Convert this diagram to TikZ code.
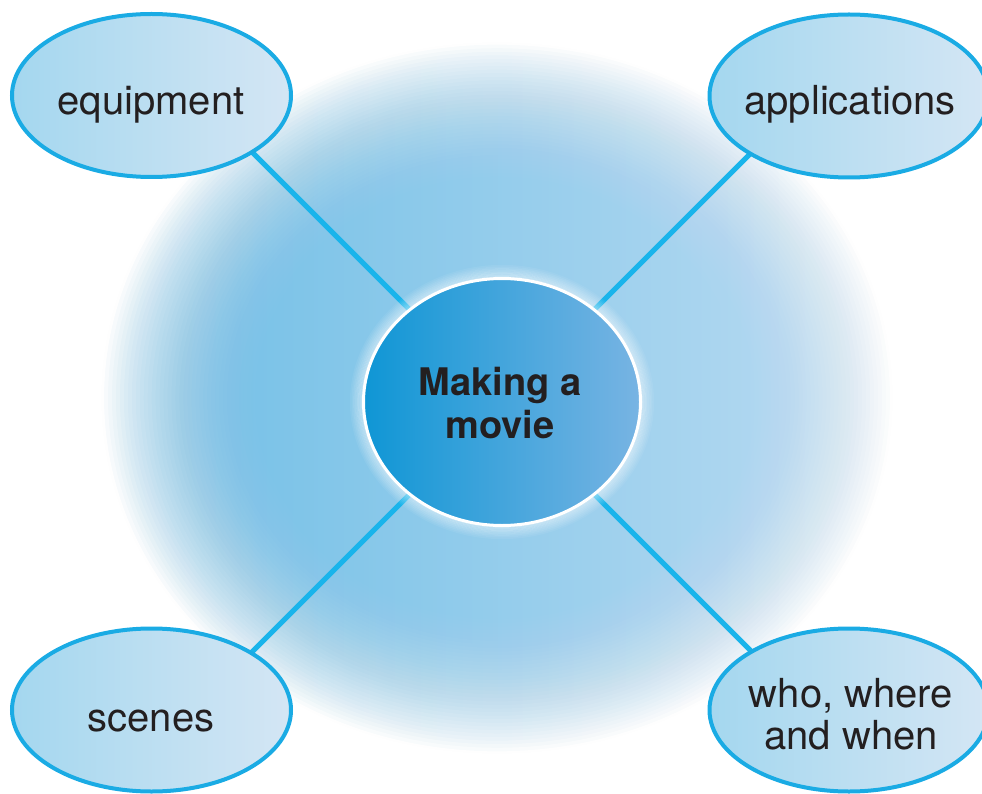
\documentclass[tikz,border=0pt]{standalone}
\usepackage{fontspec}
\setmainfont{TeX Gyre Heros}
\usetikzlibrary{shapes.geometric}

\definecolor{glowL}{HTML}{6CBDE5}
\definecolor{glowR}{HTML}{BCDCF2}
\definecolor{hubL}{HTML}{0F96D5}
\definecolor{hubR}{HTML}{78B4E3}
\definecolor{leafL}{HTML}{A4D7EF}
\definecolor{leafR}{HTML}{D4E6F4}
\definecolor{rim}{HTML}{1AABE4}
\definecolor{spoke}{HTML}{19B4EB}
\definecolor{ink}{HTML}{231F20}

\tikzset{
  leaf/.style={ellipse, draw=rim, line width=4pt, left color=leafL,
    right color=leafR, inner sep=0pt, minimum width=279pt, minimum height=163pt},
  hub/.style={ellipse, draw=white, line width=3pt, left color=hubL,
    right color=hubR, inner sep=0pt, minimum width=277pt, minimum height=247pt},
  spokeline/.style={draw=spoke, line width=5pt},
  leaftext/.style={text=ink, font=\fontsize{40}{42}\selectfont, align=center,
    inner sep=0pt, anchor=base},
  hubtext/.style={text=ink, font=\fontsize{38}{43}\selectfont\bfseries,
    align=center, inner sep=0pt, anchor=base},
}

% whitening profile of the glow edge, r = relative radius
\pgfmathdeclarefunction{glowwhite}{1}{%
  \begingroup
    \pgfmathparse{max(0,(#1-0.6)/0.4)}%
    \pgfmathparse{min(0.999,\pgfmathresult^1.5)}%
    \pgfmathsmuggle\pgfmathresult
  \endgroup}

\begin{document}
\begin{tikzpicture}[x=1pt, y=-1pt]
\useasboundingbox (0,0) rectangle (982,794);

% background glow: horizontal gradient, whitened towards its rim
\begin{scope}
  \clip (497,398) ellipse [x radius=397, y radius=357];
  \fill[left color=glowL, right color=glowR] (100,41) rectangle (894,755);
  \foreach \k in {1,...,40} {
    \pgfmathsetmacro\sa{0.6+0.01*(\k-1)}
    \pgfmathsetmacro\sb{0.6+0.01*\k}
    \pgfmathsetmacro\op{1-(1-glowwhite(\sb))/(1-glowwhite(\sa))}
    \fill[white, opacity=\op, even odd rule]
      (90,30) rectangle (905,766)
      (497,398) ellipse [x radius=397*\sa, y radius=357*\sa];
  }
\end{scope}
% wipe the hairline left by the clip
\draw[white, line width=3pt] (497,398) ellipse [x radius=397, y radius=357];

% hub position and the free ends of the spokes
\coordinate (hubc) at (502,402);
\coordinate (e1) at (212,112);
\coordinate (e2) at (792,112);
\coordinate (e3) at (212,692);
\coordinate (e4) at (792,692);

\draw[spokeline] (hubc) -- (e1);
\draw[spokeline] (hubc) -- (e2);
\draw[spokeline] (hubc) -- (e3);
\draw[spokeline] (hubc) -- (e4);

% outer topics
\node[leaf] (equip) at (151.5,95.5) {};
\node[leaf] (apps)  at (849,96) {};
\node[leaf] (scenes) at (151.5,710) {};
\node[leaf] (who)   at (849,710) {};

\node[leaftext] (equipT) at (151,115) {equipment};
\node[leaftext] (appsT) at (850,115) {applications};
\node[leaftext] (scenesT) at (151,731) {scenes};
\node[leaftext] (whoT1) at (851,707) {who, where};
\node[leaftext] (whoT2) at (851,749) {and when};

% white halo round the hub
\foreach \k in {1,...,8}
  \draw[white, line width=1.6pt, opacity=0.5-0.055*\k]
    (hubc) ellipse [x radius=138.5+1.6*\k, y radius=123.5+1.6*\k];

% central topic
\node[hub] (hub) at (hubc) {};
\node[hubtext] (hubT1) at (500,395) {Making a};
\node[hubtext] (hubT2) at (500,438) {movie};
\end{tikzpicture}
\end{document}
